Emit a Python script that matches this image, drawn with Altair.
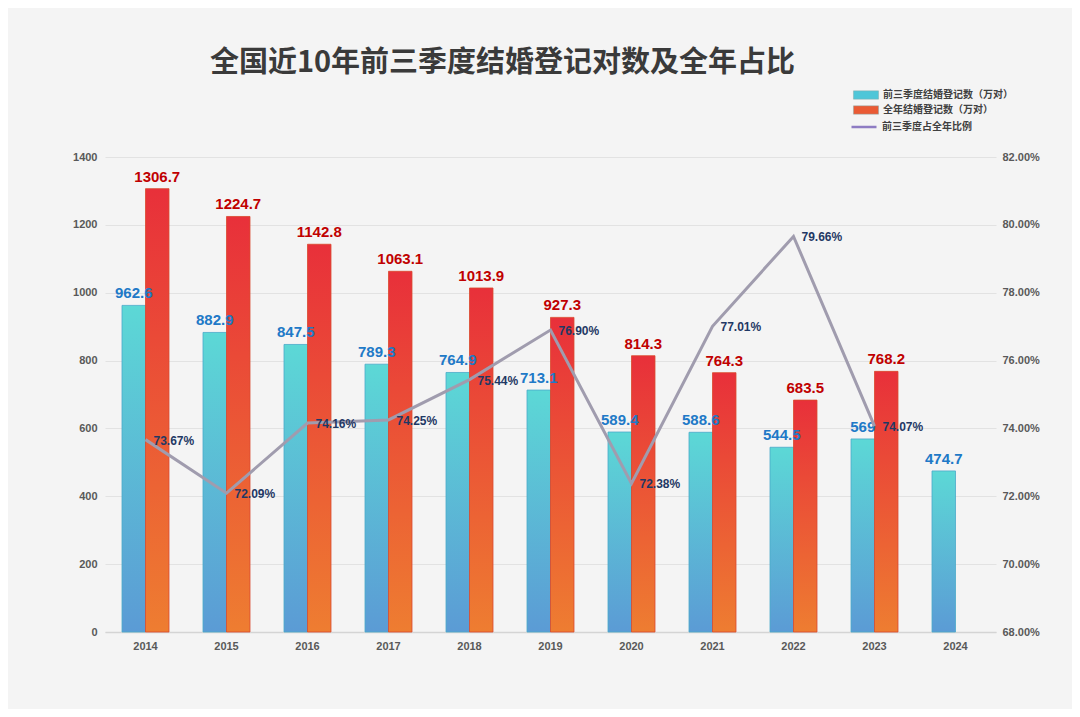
import altair as alt
import pandas as pd

years = ["2014", "2015", "2016", "2017", "2018", "2019", "2020", "2021", "2022", "2023", "2024"]
q3_values = [962.6, 882.9, 847.5, 789.3, 764.9, 713.1, 589.4, 588.6, 544.5, 569, 474.7]
full_years = ["2014", "2015", "2016", "2017", "2018", "2019", "2020", "2021", "2022", "2023"]
full_values = [1306.7, 1224.7, 1142.8, 1063.1, 1013.9, 927.3, 814.3, 764.3, 683.5, 768.2]
ratio_values = [0.7367, 0.7209, 0.7416, 0.7425, 0.7544, 0.7690, 0.7238, 0.7701, 0.7966, 0.7407]

s_q3 = "前三季度结婚登记数（万对）"
s_full = "全年结婚登记数（万对）"
s_ratio = "前三季度占全年比例"
title_text = "全国近10年前三季度结婚登记对数及全年占比"

df_q3 = pd.DataFrame({"year": years, "value": q3_values, "s": "a", "series": s_q3})
df_full = pd.DataFrame({"year": full_years, "value": full_values, "s": "b", "series": s_full})
df_bars = pd.concat([df_q3, df_full], ignore_index=True)
df_ratio = pd.DataFrame({"year": full_years, "ratio": ratio_values, "series": s_ratio})

NUM_FONT = "Liberation Sans"
CJK_FONT = "Noto Sans CJK SC"

x_enc = alt.X(
    "year:O",
    scale=alt.Scale(domain=years, paddingInner=0.42, paddingOuter=0.21),
    axis=alt.Axis(
        title=None, labelAngle=0, ticks=False, domain=True, domainColor="#d4d4d4",
        domainWidth=1.5, labelFont=NUM_FONT, labelFontWeight="bold", labelFontSize=11,
        labelColor="#595959", labelPadding=8, grid=False,
    ),
)
xoff = alt.XOffset("s:N", scale=alt.Scale(domain=["a", "b"]))
y_left = alt.Y(
    "value:Q",
    scale=alt.Scale(domain=[0, 1400]),
    axis=alt.Axis(
        title=None, values=[0, 200, 400, 600, 800, 1000, 1200, 1400], format="d", ticks=False,
        domain=False, labelFont=NUM_FONT, labelFontWeight="bold", labelFontSize=11,
        labelColor="#595959", labelPadding=8, grid=True, gridColor="#e2e2e2", gridWidth=1,
    ),
)

blue_grad = alt.Gradient(
    gradient="linear", x1=0, x2=0, y1=0, y2=1,
    stops=[alt.GradientStop(color="#5cd8d6", offset=0), alt.GradientStop(color="#5b9bd5", offset=1)],
)
red_grad = alt.Gradient(
    gradient="linear", x1=0, x2=0, y1=0, y2=1,
    stops=[alt.GradientStop(color="#e8303a", offset=0), alt.GradientStop(color="#ee7d31", offset=1)],
)

blue_bars = alt.Chart(df_q3).mark_bar(fill=blue_grad, stroke="#4aa9c9", strokeWidth=0.8).encode(
    x=x_enc, xOffset=xoff, y=y_left
)
red_bars = alt.Chart(df_full).mark_bar(fill=red_grad, stroke="#d9482c", strokeWidth=0.8).encode(
    x=x_enc, xOffset=xoff, y=y_left
)
blue_text = alt.Chart(df_q3).mark_text(
    font=NUM_FONT, fontSize=15, fontWeight="bold", color="#2079c7", baseline="bottom", dy=-4
).encode(x=x_enc, xOffset=xoff, y=y_left, text=alt.Text("value:Q", format=".1~f"))
red_text = alt.Chart(df_full).mark_text(
    font=NUM_FONT, fontSize=15, fontWeight="bold", color="#c00000", baseline="bottom", dy=-4
).encode(x=x_enc, xOffset=xoff, y=y_left, text=alt.Text("value:Q", format=".1~f"))

bar_legend = alt.Chart(df_bars).mark_bar(opacity=0).encode(
    x=x_enc, xOffset=xoff, y=y_left,
    color=alt.Color(
        "series:N",
        scale=alt.Scale(domain=[s_q3, s_full], range=["#4fc6d8", "#ea5a34"]),
        legend=alt.Legend(
            title=None, orient="none", legendX=752, legendY=-71,
            symbolType="M-1.5,-0.5H1.5V0.5H-1.5Z", symbolSize=280, symbolOpacity=1,
            symbolStrokeColor="#8aa", symbolStrokeWidth=0.5, rowPadding=0, labelOffset=8,
            labelFont=CJK_FONT, labelFontSize=10, labelFontWeight="bold", labelColor="#404040",
        ),
    ),
)

bars = alt.layer(blue_bars, red_bars, blue_text, red_text, bar_legend)

y_right = alt.Y(
    "ratio:Q",
    scale=alt.Scale(domain=[0.68, 0.82]),
    axis=alt.Axis(
        title=None, orient="right", values=[0.68, 0.70, 0.72, 0.74, 0.76, 0.78, 0.80, 0.82],
        format=".2%", ticks=False, domain=False, grid=False, labelFont=NUM_FONT,
        labelFontWeight="bold", labelFontSize=11, labelColor="#595959", labelPadding=6,
    ),
)

line = alt.Chart(df_ratio).mark_line(color="#a09cae", strokeWidth=3).encode(x=x_enc, y=y_right)
line_text = alt.Chart(df_ratio).mark_text(
    font=NUM_FONT, fontSize=12, fontWeight="bold", color="#1f3864", align="left", dx=8, dy=1,
    baseline="middle",
).encode(x=x_enc, y=y_right, text=alt.Text("ratio:Q", format=".2%"))
line_legend = alt.Chart(df_ratio).mark_line(opacity=0).encode(
    x=x_enc, y=y_right,
    stroke=alt.Stroke(
        "series:N",
        scale=alt.Scale(domain=[s_ratio], range=["#8e7cc3"]),
        legend=alt.Legend(
            title=None, orient="none", legendX=745, legendY=-44,
            symbolType="stroke", symbolSize=625, symbolOpacity=1, symbolStrokeWidth=2.5,
            labelOffset=4,
            labelFont=CJK_FONT, labelFontSize=10, labelFontWeight="bold", labelColor="#404040",
        ),
    ),
)

lines = alt.layer(line, line_text, line_legend)

chart = (
    alt.layer(bars, lines)
    .resolve_scale(y="independent")
    .properties(
        width=891,
        height=475,
        background="#f4f4f4",
        autosize=alt.AutoSizeParams(type="none"),
        padding={"left": 97, "top": 149, "right": 76, "bottom": 77},
        title=alt.TitleParams(
            text=title_text, font=CJK_FONT, fontSize=29, fontWeight="bold", color="#3a3a3a",
            anchor="middle", dx=-48, offset=8,
        ),
    )
    .configure_view(stroke=None)
)

chart.save("out.html", embed_options={"renderer": "svg", "actions": False})
